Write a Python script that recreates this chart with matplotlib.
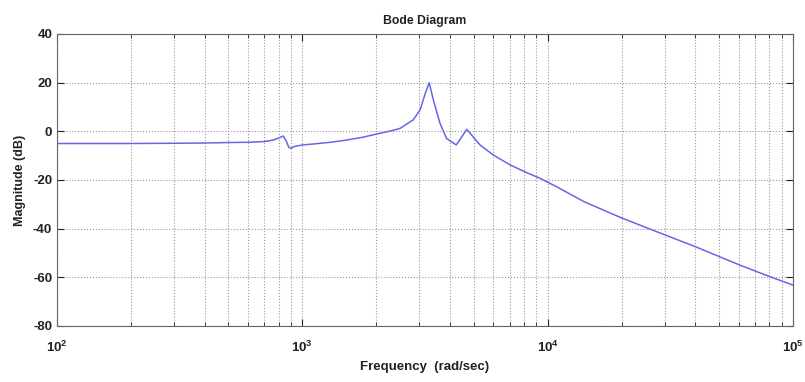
import numpy as np
import matplotlib
matplotlib.use('Agg')
import matplotlib.pyplot as plt
from matplotlib.ticker import LogLocator, NullFormatter

plt.rcParams['font.family'] = ['Liberation Sans', 'DejaVu Sans']
plt.rcParams['font.weight'] = 'bold'
plt.rcParams['axes.unicode_minus'] = False
plt.rcParams['mathtext.fontset'] = 'custom'
plt.rcParams['mathtext.rm'] = 'Liberation Sans:bold'

# magnitude response (rad/sec, dB)
freq = [100, 200, 300, 400, 500, 600, 700, 760, 800, 836, 860, 880, 900, 930,
        1000, 1110, 1300, 1514, 1750, 2010, 2300, 2500, 2830, 3020, 3170, 3290,
        3420, 3640, 3870, 4240, 4680, 5300, 6000, 7030, 8220, 9310, 10890,
        14000, 19700, 25700, 40000, 60800, 79400, 100000]
mag = [-5.0, -5.0, -4.9, -4.8, -4.6, -4.5, -4.2, -3.6, -2.8, -1.9, -4.0, -6.5, -7.0, -6.2,
       -5.6, -5.2, -4.5, -3.6, -2.5, -1.1, 0.2, 1.2, 4.7, 8.8, 15.6, 20.0,
       12.9, 3.3, -2.9, -5.6, 0.8, -5.6, -9.7, -13.8, -17.0, -19.3, -22.8,
       -28.8, -35.3, -39.9, -47.4, -55.0, -59.5, -63.2]
yticks = [-80, -60, -40, -20, 0, 20, 40]

fig = plt.figure(figsize=(8.05, 3.82), dpi=100)
ax = fig.add_axes([57 / 805, 1 - 326 / 382, 736 / 805, 292 / 382])

ax.semilogx(freq, mag, color='#6666e6', lw=1.1)

ax.set_xlim(1e2, 1e5)
ax.set_ylim(-80, 40)
ax.set_yticks(yticks)
ax.xaxis.set_major_locator(LogLocator(base=10))
ax.xaxis.set_minor_locator(LogLocator(base=10, subs=np.arange(2, 10)))
ax.xaxis.set_minor_formatter(NullFormatter())

ax.grid(True, which='major', axis='both', ls=':', color='#999999', lw=0.8)
ax.grid(True, which='minor', axis='x', ls=':', color='#999999', lw=0.8)

ax.tick_params(which='both', direction='in', top=True, right=True,
               labelsize=9.5, colors='#222222')
ax.tick_params(which='major', length=5)
ax.tick_params(which='minor', length=3)
ax.tick_params(axis='x', pad=10)
for s in ax.spines.values():
    s.set_color('#666666')

ax.set_title('Bode Diagram', fontsize=8.8, fontweight='bold', color='#222222', pad=7)
ax.set_xlabel('Frequency  (rad/sec)', fontsize=9.5, fontweight='bold',
              color='#222222', labelpad=4)
ax.set_ylabel('Magnitude (dB)', fontsize=9, fontweight='bold',
              color='#222222', labelpad=5)

fig.savefig('out.png', dpi=100)
